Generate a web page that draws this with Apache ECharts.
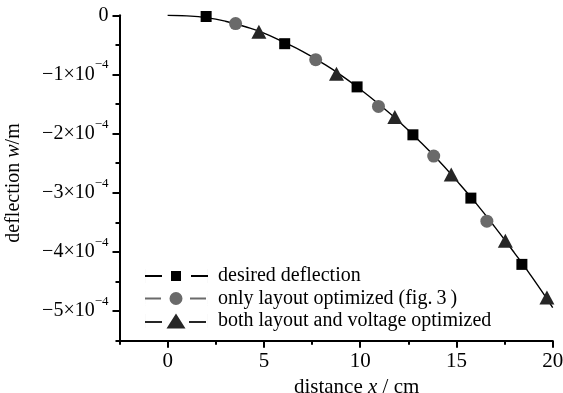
<!DOCTYPE html>
<html>
<head>
<meta charset="utf-8">
<script src="https://cdn.jsdelivr.net/npm/echarts@6/dist/echarts.min.js"></script>
<style>
  html, body { margin: 0; padding: 0; background: #fff; }
  #chart { width: 563px; height: 393px; }
</style>
</head>
<body>
<div id="chart"></div>
<script>
// deflection values are in units of 1e-4 m
const curveX = [0, 1, 2, 3, 4, 5, 6, 7, 8, 9, 10, 11, 12, 13, 14, 15, 16, 17, 18, 19, 20];
const curveY = [0, -0.01, -0.04, -0.10, -0.19, -0.30, -0.45, -0.61, -0.80, -1.01, -1.25, -1.51, -1.79, -2.10, -2.43, -2.79, -3.17, -3.58, -4.01, -4.46, -4.94];

const desiredX = [2.0, 6.08, 9.84, 12.74, 15.75, 18.4];
const desiredY = [-0.02, -0.48, -1.21, -2.02, -3.09, -4.21];

const layoutX = [3.53, 7.69, 10.95, 13.82, 16.58];
const layoutY = [-0.14, -0.75, -1.54, -2.38, -3.48];

const bothX = [4.74, 8.77, 11.8, 14.73, 17.54, 19.7];
const bothY = [-0.28, -0.99, -1.72, -2.69, -3.81, -4.77];

const xMajor = [0, 5, 10, 15, 20];
const xMinor = [-2.5, 2.5, 7.5, 12.5, 17.5];
const yMajor = [0, -1, -2, -3, -4, -5];
const yMinor = [-0.5, -1.5, -2.5, -3.5, -4.5, -5.5];

const legendNames = ['desired deflection', 'only layout optimized (fig.\u20093\u2009)', 'both layout and voltage optimized'];

const pairs = (xs, ys) => xs.map((x, i) => [x, ys[i]]);

const FONT = 'Liberation Serif';
const sliver = 'M0 0h0.02v15h-0.02zM62.98 0h0.02v15h-0.02z';
const icons = [
  'path://' + sliver + 'M0 6.5h17v2H0zM26 2.5h10v10H26zM46 6.5h17v2H46z',
  'path://' + sliver + 'M0 6.5h16v2H0zM24.5 7.5a6.5 6.5 0 1 0 13 0a6.5 6.5 0 1 0 -13 0zM45 6.5h16v2H45z',
  'path://' + sliver + 'M0 7.5h17v2H0zM21.5 15L31 0L40.5 15zM44 7.5h17v2H44z'
];

const chart = echarts.init(document.getElementById('chart'));

const option = {
  animation: false,
  backgroundColor: '#fff',
  textStyle: { fontFamily: FONT },
  grid: { left: 119.5, right: 10.3, top: 15.3, bottom: 52.3, outerBoundsMode: 'none' },
  legend: {
    orient: 'vertical',
    left: 140,
    top: 261,
    itemWidth: 63,
    itemHeight: 15,
    itemGap: 2.5,
    textStyle: { fontFamily: FONT, fontSize: 20, color: '#000', padding: [0, 0, 0, 5] },
    data: legendNames.map((n, i) => ({ name: n, icon: icons[i] }))
  },
  xAxis: [
    {
      type: 'value', min: -2.5, max: 20, interval: 2.5,
      name: 'distance {i|x} / cm',
      nameLocation: 'middle',
      nameGap: 30,
      nameTextStyle: {
        fontFamily: FONT, fontSize: 21, color: '#000', padding: [0, 0, 0, 41],
        rich: { i: { fontFamily: FONT, fontSize: 21, fontStyle: 'italic', color: '#000' } }
      },
      axisLine: { onZero: false, lineStyle: { color: '#000', width: 2 } },
      axisTick: { customValues: xMajor, length: 7, lineStyle: { color: '#000', width: 2 } },
      axisLabel: { customValues: xMajor, margin: 10, fontFamily: FONT, fontSize: 21, color: '#000' },
      splitLine: { show: false }
    },
    {
      type: 'value', min: -2.5, max: 20, interval: 2.5, position: 'bottom',
      axisLine: { show: false, onZero: false },
      axisTick: { customValues: xMinor, length: 4, lineStyle: { color: '#000', width: 2 } },
      axisLabel: { show: false },
      splitLine: { show: false }
    }
  ],
  yAxis: [
    {
      type: 'value', min: -5.5, max: 0, interval: 0.5,
      name: 'deflection {i|w}/m',
      nameLocation: 'middle',
      nameGap: 96,
      nameTextStyle: {
        fontFamily: FONT, fontSize: 20, color: '#000', padding: [0, 10, 0, 0],
        rich: { i: { fontFamily: FONT, fontSize: 20, fontStyle: 'italic', color: '#000' } }
      },
      axisLine: { onZero: false, lineStyle: { color: '#000', width: 2 } },
      axisTick: { customValues: yMajor, length: 7, lineStyle: { color: '#000', width: 2 } },
      axisLabel: {
        customValues: yMajor,
        margin: 11,
        formatter: v => v === 0 ? '{b|0}' : '{b|\u2212' + Math.abs(v) + '\u00d710}{s|\u22124}',
        rich: {
          b: { fontFamily: FONT, fontSize: 20, color: '#000', lineHeight: 32 },
          s: { fontFamily: FONT, fontSize: 13, color: '#000', lineHeight: 13, verticalAlign: 'top' }
        }
      },
      splitLine: { show: false }
    },
    {
      type: 'value', min: -5.5, max: 0, interval: 0.5, position: 'left',
      axisLine: { show: false, onZero: false },
      axisTick: { customValues: yMinor, length: 4, lineStyle: { color: '#000', width: 2 } },
      axisLabel: { show: false },
      splitLine: { show: false }
    }
  ],
  series: [
    {
      name: 'curve', type: 'line', smooth: true, showSymbol: false, silent: true,
      data: pairs(curveX, curveY),
      lineStyle: { color: '#000', width: 1.4 }, z: 1
    },
    {
      name: legendNames[0], type: 'scatter', symbol: 'rect', symbolSize: 11,
      data: pairs(desiredX, desiredY), itemStyle: { color: '#000', opacity: 1 }, z: 3
    },
    {
      name: legendNames[1], type: 'scatter', symbol: 'circle', symbolSize: 13,
      data: pairs(layoutX, layoutY), itemStyle: { color: '#6a6a6a', opacity: 1 }, z: 3
    },
    {
      name: legendNames[2], type: 'scatter', symbol: 'triangle', symbolSize: [15, 14],
      data: pairs(bothX, bothY), itemStyle: { color: '#262626', opacity: 1 }, z: 3
    }
  ]
};

chart.setOption(option);
</script>
</body>
</html>
